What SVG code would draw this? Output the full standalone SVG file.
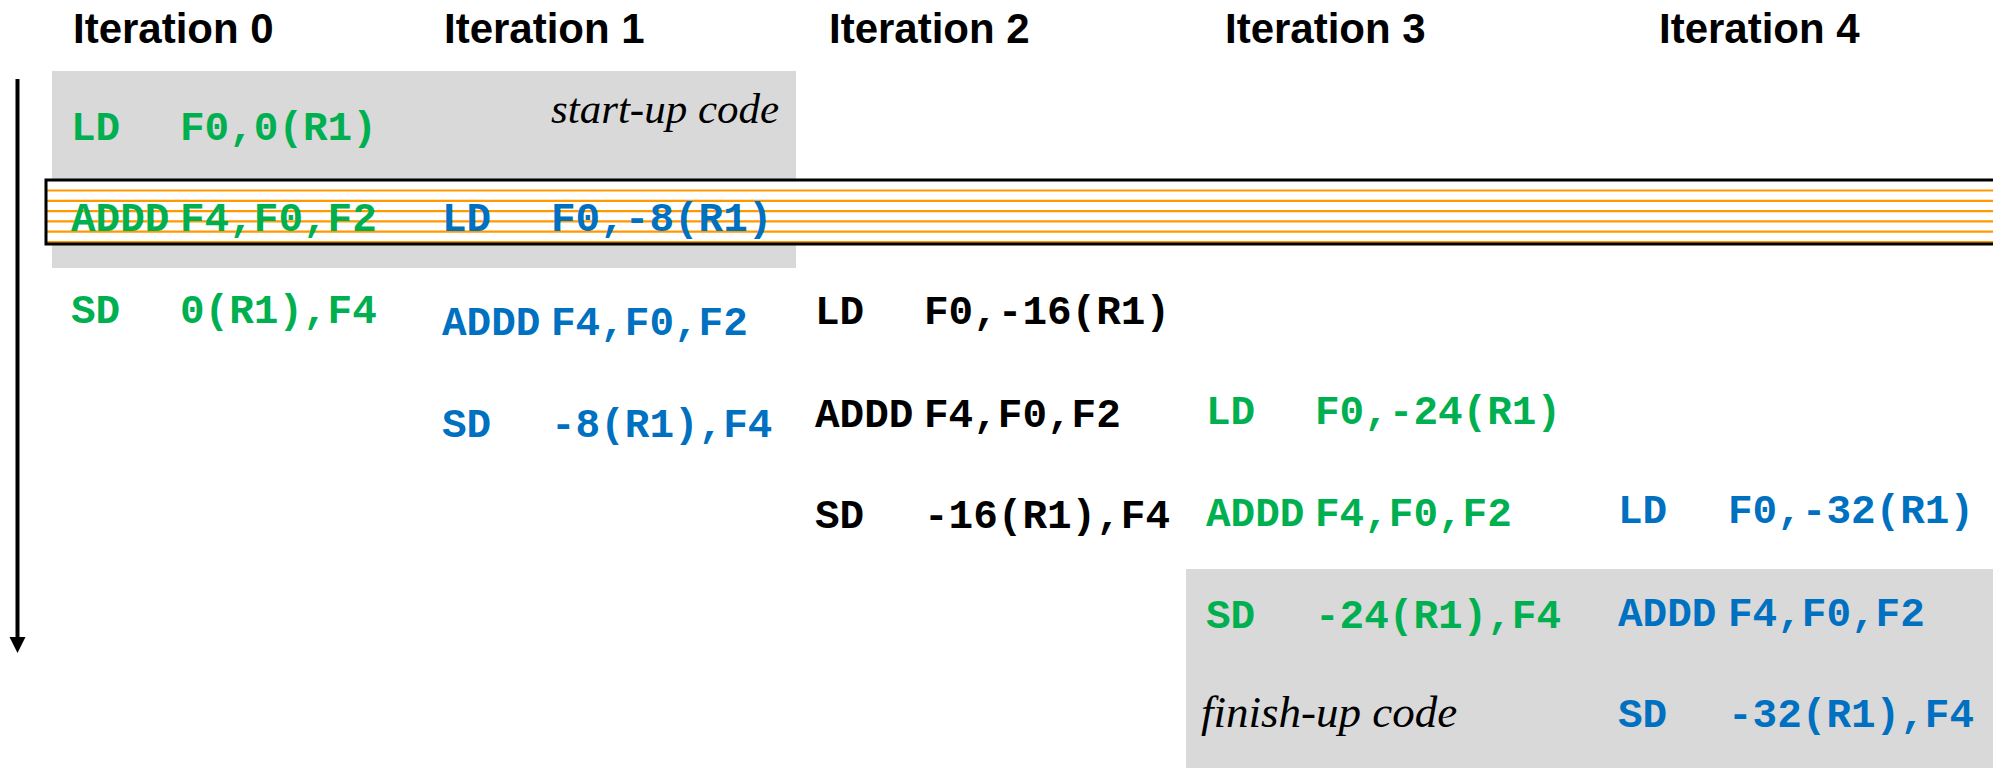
<svg xmlns="http://www.w3.org/2000/svg" width="1993" height="768" viewBox="0 0 1993 768">
<style>
.title{font-family:"Liberation Sans",Arial,sans-serif;font-weight:bold;font-size:42px;fill:#000}
.code{font-family:"Liberation Mono","Courier New",monospace;font-weight:bold;font-size:41px}
.g{fill:#00B050}.b{fill:#0070C0}.k{fill:#000}
.note{font-family:"Liberation Serif","Times New Roman",serif;font-style:italic;fill:#000}
.stripe{stroke:#FF9900;stroke-width:2.2}
</style>
<rect width="1993" height="768" fill="#fff"/>
<g id="startup-region">
<rect x="52" y="71" width="744" height="197" fill="#D9D9D9"/>
<text class="note" x="551" y="123" font-size="43">start-up code</text>
</g>
<g id="finishup-region">
<rect x="1186" y="569" width="807" height="199" fill="#D9D9D9"/>
<text class="note" x="1201" y="727" font-size="45">finish-up code</text>
</g>
<g id="steady-state">
<rect x="46" y="180" width="1960" height="64" fill="#fff"/>
<g class="stripe">
<line x1="46" y1="190.5" x2="1993" y2="190.5"/>
<line x1="46" y1="200.8" x2="1993" y2="200.8"/>
<line x1="46" y1="211.1" x2="1993" y2="211.1"/>
<line x1="46" y1="221.4" x2="1993" y2="221.4"/>
<line x1="46" y1="231.7" x2="1993" y2="231.7"/>
<line x1="46" y1="242" x2="1993" y2="242"/>
</g>
<rect x="46" y="180" width="1960" height="64" fill="none" stroke="#000" stroke-width="3"/>
</g>
<g id="titles">
<text class="title" x="73" y="43">Iteration 0</text>
<text class="title" x="444" y="43">Iteration 1</text>
<text class="title" x="829" y="43">Iteration 2</text>
<text class="title" x="1225" y="43">Iteration 3</text>
<text class="title" x="1659" y="43">Iteration 4</text>
</g>
<g id="iter0" class="code">
<text class="g" x="71" y="140">LD</text><text class="g" x="180" y="140">F0,0(R1)</text>
<text class="g" x="71" y="231">ADDD</text><text class="g" x="180" y="231">F4,F0,F2</text>
<text class="g" x="71" y="323">SD</text><text class="g" x="180" y="323">0(R1),F4</text>
</g>
<g id="iter1" class="code">
<text class="b" x="442" y="231">LD</text><text class="b" x="551" y="231">F0,-8(R1)</text>
<text class="b" x="442" y="335">ADDD</text><text class="b" x="551" y="335">F4,F0,F2</text>
<text class="b" x="442" y="437">SD</text><text class="b" x="551" y="437">-8(R1),F4</text>
</g>
<g id="iter2" class="code">
<text class="k" x="815" y="324">LD</text><text class="k" x="924" y="324">F0,-16(R1)</text>
<text class="k" x="815" y="427">ADDD</text><text class="k" x="924" y="427">F4,F0,F2</text>
<text class="k" x="815" y="528">SD</text><text class="k" x="924" y="528">-16(R1),F4</text>
</g>
<g id="iter3" class="code">
<text class="g" x="1206" y="424">LD</text><text class="g" x="1315" y="424">F0,-24(R1)</text>
<text class="g" x="1206" y="526">ADDD</text><text class="g" x="1315" y="526">F4,F0,F2</text>
<text class="g" x="1206" y="628">SD</text><text class="g" x="1315" y="628">-24(R1),F4</text>
</g>
<g id="iter4" class="code">
<text class="b" x="1618" y="523">LD</text><text class="b" x="1728" y="523">F0,-32(R1)</text>
<text class="b" x="1618" y="626">ADDD</text><text class="b" x="1728" y="626">F4,F0,F2</text>
<text class="b" x="1618" y="727">SD</text><text class="b" x="1728" y="727">-32(R1),F4</text>
</g>
<g id="connectors">
<line x1="17.5" y1="79" x2="17.5" y2="640" stroke="#000" stroke-width="4"/>
<polygon points="9.5,637 25.5,637 17.5,653" fill="#000"/>
</g>
</svg>
